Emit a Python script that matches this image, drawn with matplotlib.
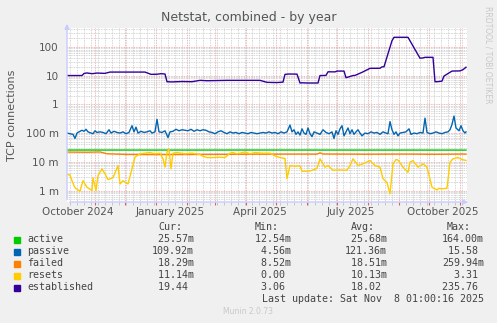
import matplotlib
matplotlib.use("Agg")
import matplotlib.pyplot as plt
import matplotlib.dates as mdates
import matplotlib.transforms as mtransforms
import numpy as np
import pandas as pd

# series: day offset from start, value
start = pd.Timestamp("2024-10-04")
end = start + pd.Timedelta(days=400)

established_days = [0, 15, 17, 20, 25, 30, 38, 43, 50, 60, 70, 78, 84, 90, 94, 98, 100,
                    105, 115, 125, 133, 140, 150, 160, 170, 180, 193, 200, 210, 216,
                    218, 222, 230, 233, 235, 240, 251, 253, 259, 261, 268, 270, 277,
                    279, 286, 288, 295, 303, 313, 315, 317, 325, 327, 329, 341, 353,
                    356, 358, 366, 368, 370, 375, 377, 385, 393, 396, 399]
established = [10, 10, 11.8, 12.3, 11.6, 12.2, 11.9, 13.2, 13.2, 13.2, 13.2, 13.2,
               11.0, 11.1, 11.6, 11.3, 6.1, 6.0, 6.2, 6.1, 6.8, 6.6, 6.7, 6.8, 6.8,
               6.8, 6.8, 5.8, 5.7, 5.9, 11.0, 11.3, 11.2, 5.5, 5.6, 5.5, 5.5, 10.0,
               10.1, 13.5, 13.4, 14.3, 14.3, 8.4, 10.0, 10.1, 12.9, 17.8, 17.9, 20.0,
               20.2, 163, 214, 214, 214, 40, 41, 43, 43, 6.1, 6.1, 6.4, 9.6, 14.3,
               14.5, 16.0, 19.44]

passive_days = [0, 3, 6, 8, 10, 12, 15, 17, 19, 21, 24, 26, 28, 30, 33, 36, 39, 42,
                44, 47, 50, 53, 56, 59, 62, 65, 67, 69, 71, 74, 77, 80, 83, 85, 88,
                90, 92, 95, 98, 101, 103, 106, 109, 112, 115, 118, 121, 124, 127,
                130, 133, 136, 139, 142, 145, 148, 151, 154, 157, 160, 163, 166,
                169, 172, 175, 178, 181, 184, 187, 190, 193, 196, 199, 202, 205,
                208, 211, 214, 217, 220, 223, 225, 227, 229, 231, 233, 235, 237,
                239, 241, 243, 245, 247, 250, 253, 256, 259, 262, 265, 267, 269,
                271, 273, 275, 277, 279, 281, 283, 285, 287, 289, 291, 293, 295,
                298, 301, 304, 307, 310, 313, 316, 319, 321, 323, 325, 327, 329,
                331, 333, 336, 339, 342, 344, 347, 350, 353, 356, 358, 360, 363,
                366, 369, 372, 375, 378, 381, 383, 385, 387, 389, 392, 394, 396,
                398, 399]
passive = [100, 95, 90, 65, 100, 110, 125, 115, 135, 110, 100, 95, 120, 105, 110,
           105, 95, 130, 100, 115, 105, 100, 110, 95, 105, 180, 110, 160, 100, 115,
           105, 110, 120, 100, 110, 300, 110, 105, 120, 70, 110, 115, 135, 120, 130,
           125, 120, 135, 115, 130, 120, 130, 125, 110, 105, 95, 110, 120, 105, 95,
           110, 100, 105, 95, 105, 100, 95, 105, 100, 95, 100, 105, 100, 110, 100,
           105, 95, 110, 100, 110, 190, 110, 130, 90, 110, 85, 140, 100, 90, 150,
           95, 75, 110, 100, 90, 130, 105, 95, 110, 65, 120, 90, 140, 180, 80, 110,
           150, 95, 130, 90, 110, 130, 100, 80, 100, 95, 110, 100, 105, 90, 110,
           100, 95, 250, 130, 90, 110, 80, 100, 105, 110, 140, 90, 100, 95, 105,
           100, 330, 105, 95, 100, 110, 100, 95, 105, 110, 130, 200, 390, 150, 120,
           180, 120, 100, 110]

failed_days = [0, 20, 33, 40, 60, 90, 130, 180, 230, 250, 253, 256, 300, 340, 370,
               396, 399]
failed = [21.8, 21.5, 22.0, 19.0, 18.0, 17.8, 18.0, 18.3, 18.5, 18.4, 20.5, 18.6,
          18.3, 18.5, 18.2, 18.6, 18.29]

active_days = [0, 100, 200, 300, 399]
active = [25.7, 25.6, 25.7, 25.6, 25.57]

resets_days = [0, 3, 5, 8, 13, 16, 20, 25, 26, 29, 31, 35, 38, 41, 46, 51, 53, 56,
               61, 65, 68, 73, 78, 83, 88, 93, 96, 98, 100, 102, 104, 106, 110, 118,
               125, 133, 135, 140, 146, 152, 158, 163, 166, 170, 173, 178, 183,
               188, 195, 203, 208, 213, 218, 220, 223, 228, 233, 235, 238, 243, 250,
               253, 258, 261, 266, 273, 280, 283, 286, 291, 296, 303, 308, 313,
               316, 320, 323, 326, 329, 331, 336, 341, 343, 346, 351, 356, 360,
               365, 370, 372, 375, 380, 383, 386, 391, 395, 399]
resets = [3.6, 3.5, 2.2, 1.24, 0.95, 2.2, 1.3, 1.0, 2.8, 1.0, 3.3, 5.7, 3.8, 2.4,
          2.8, 7.4, 1.7, 2.2, 1.7, 5.7, 14.5, 19, 20, 21, 19, 20, 12.7, 6.5, 22,
          28, 5.7, 20, 21, 19, 20, 18, 16, 14, 14, 14.5, 14, 20, 21, 19, 20, 22,
          19, 21, 20, 20, 16, 14, 13, 2.6, 7.4, 7.0, 7.2, 4.7, 4.7, 4.8, 5.9,
          12.7, 6.5, 7.4, 5.1, 5.2, 5.1, 7.4, 12.7, 7.5, 8.5, 11, 7.4, 6.5, 2.6,
          1.9, 0.77, 8.5, 12, 11.5, 6.5, 4.3, 9.8, 11, 6.5, 8.5, 6.5, 1.3, 1.05,
          1.2, 1.15, 1.2, 9.7, 12.7, 14, 12, 11.14]

names = ["active", "passive", "failed", "resets", "established"]
colors = ["#00cc00", "#0066b3", "#ff8000", "#ffcc00", "#330099"]
cur_col = [" 25.57m", "109.92m", " 18.29m", " 11.14m", " 19.44 "]
min_col = [" 12.54m", "  4.56m", "  8.52m", "  0.00 ", "  3.06 "]
avg_col = [" 25.68m", "121.36m", " 18.51m", " 10.13m", " 18.02 "]
max_col = ["164.00m", " 15.58 ", "259.94m", "  3.31 ", "235.76 "]

ytick_vals = [1e-3, 1e-2, 1e-1, 1, 10, 100]
ytick_labels = ["1 m", "10 m", "100 m", "1", "10", "100"]
xlabel_dates = ["2024-10-15", "2025-01-15", "2025-04-15", "2025-07-15", "2025-10-15"]
xlabel_texts = ["October 2024", "January 2025", "April 2025", "July 2025", "October 2025"]

W, H = 497, 323
fig = plt.figure(figsize=(W / 100, H / 100), dpi=100, facecolor="#f0f0f0")
ax = fig.add_axes([67 / W, (H - 202) / H, 400 / W, 174 / H])
ax.set_facecolor("white")

def to_dates(days):
    return [start + pd.Timedelta(days=d) for d in days]

series = [(active_days, active, 1e-3), (passive_days, passive, 1e-3),
          (failed_days, failed, 1e-3), (resets_days, resets, 1e-3),
          (established_days, established, 1.0)]
for (d, v, scale), c in zip(series, colors):
    ax.plot(to_dates(d), np.array(v) * scale, color=c, lw=1.0, zorder=3)

ax.set_yscale("log")
ax.set_ylim(4e-4, 450)
ax.set_xlim(start, end)

# grid
ax.xaxis.set_major_locator(mdates.MonthLocator())
ax.xaxis.set_minor_locator(mdates.WeekdayLocator(byweekday=mdates.MO))
ax.xaxis.set_major_formatter(plt.NullFormatter())
ax.set_yticks(ytick_vals)
ax.set_yticklabels(ytick_labels)
ax.yaxis.set_minor_locator(matplotlib.ticker.LogLocator(base=10, subs=np.arange(2, 10)))
ax.yaxis.set_minor_formatter(plt.NullFormatter())
ax.grid(which="minor", color="#c8c8c8", lw=0.6, ls=(0, (1, 1)), zorder=1)
ax.grid(which="major", color="#e8a0a0", lw=0.6, ls=(0, (1, 1)), zorder=2)
ax.tick_params(axis="x", which="major", length=2, color="#e06060", labelsize=0)
ax.tick_params(axis="x", which="minor", length=2, color="#c0c0c0")
ax.tick_params(axis="y", which="both", length=0, labelsize=7.5, labelcolor="#555555", pad=6)
for s in ax.spines.values():
    s.set_visible(False)

# axes with arrows
axcol = "#c8ccff"
ax.annotate("", xy=(1.01, 0), xytext=(0, 0), xycoords="axes fraction",
            arrowprops=dict(arrowstyle="-|>", color=axcol, lw=1, mutation_scale=7))
ax.annotate("", xy=(0, 1.04), xytext=(0, 0), xycoords="axes fraction",
            arrowprops=dict(arrowstyle="-|>", color=axcol, lw=1, mutation_scale=7))

trans = mtransforms.blended_transform_factory(ax.transData, ax.transAxes)
for d, t in zip(xlabel_dates, xlabel_texts):
    ax.text(pd.Timestamp(d), -0.055, t, transform=trans, ha="center", va="center",
            fontsize=7.5, color="#555555")

def fx(px):
    return px / W

def fy(py):
    return 1 - py / H

fig.text(fx(248.5), fy(18), "Netstat, combined - by year", ha="center", va="center",
         fontsize=9, color="#555555")
fig.text(fx(12), fy(115), "TCP connections", rotation=90, ha="center", va="center",
         fontsize=8, color="#555555")
fig.text(fx(488), fy(55), "RRDTOOL / TOBI OETIKER", rotation=270, ha="center",
         va="center", fontsize=5.5, color="#c8c8c8")

mono = "DejaVu Sans Mono"
fs = 7.2
tc = "#444444"
for hx, ht in zip([158, 255, 351, 447], ["Cur:", "Min:", "Avg:", "Max:"]):
    fig.text(fx(hx), fy(227), ht, family=mono, fontsize=fs, color=tc, va="center")
row_y = [239.5, 251.5, 263.5, 275.5, 287.5]
for i, name in enumerate(names):
    y = row_y[i]
    fig.patches.append(plt.Rectangle((fx(14), fy(y + 3)), 6 / W, 6 / H,
                                     transform=fig.transFigure, color=colors[i]))
    fig.text(fx(27), fy(y), name, family=mono, fontsize=fs, color=tc, va="center")
    fig.text(fx(152), fy(y), cur_col[i], family=mono, fontsize=fs, color=tc, va="center")
    fig.text(fx(249), fy(y), min_col[i], family=mono, fontsize=fs, color=tc, va="center")
    fig.text(fx(345), fy(y), avg_col[i], family=mono, fontsize=fs, color=tc, va="center")
    fig.text(fx(442), fy(y), max_col[i], family=mono, fontsize=fs, color=tc, va="center")
fig.text(fx(262), fy(299.5), "Last update: Sat Nov  8 01:00:16 2025", family=mono,
         fontsize=fs, color=tc, va="center")
fig.text(fx(248), fy(312), "Munin 2.0.73", ha="center", va="center", fontsize=5.5,
         color="#c8c8c8")

fig.savefig("out.png", dpi=100, facecolor=fig.get_facecolor())
